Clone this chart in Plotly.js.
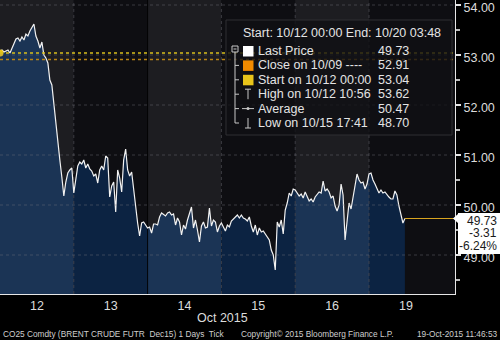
<!DOCTYPE html>
<html><head><meta charset="utf-8">
<script src="https://cdn.plot.ly/plotly-3.0.1.min.js"></script>
<style>html,body{margin:0;padding:0;background:#000;}#chart{width:500px;height:340px;}</style>
</head><body><div id="chart"></div>
<script>
// ---- data ----
const dayLabels = ['12', '13', '14', '15', '16', '19'];
const day12 = [53.04,53.10,53.06,53.08,53.10,53.04,53.14,53.26,53.32,53.34,53.28,53.36,53.30,53.42,53.38,53.48,53.56,53.62,53.38,53.28,53.14,53.26,53.00,52.94,52.84,52.50,52.40,52.00,51.60,51.16,50.90,50.56,50.18,50.46,50.64,50.70,50.74];
const day13 = [50.24,50.54,50.78,50.86,50.82,50.90,50.74,50.82,50.72,50.68,50.58,50.62,50.44,50.70,50.78,50.70,50.98,50.94,50.16,50.38,50.46,49.86,50.70,50.54,50.26,50.90,51.12,50.70,50.58,50.66,50.32,49.86,49.64,49.38,49.64,49.66,49.60];
const day14 = [49.54,49.56,49.44,49.62,49.62,49.60,49.76,49.84,49.80,49.78,49.84,49.86,49.80,49.82,49.60,49.74,49.66,49.40,49.60,49.52,49.70,49.84,49.96,49.54,49.70,49.50,49.26,49.58,49.66,49.54,49.56,49.94,49.58,49.70,49.66,49.46,49.58];
const day15 = [49.64,49.56,49.48,49.60,49.56,49.68,49.72,49.76,49.80,49.74,49.80,49.74,49.72,49.68,49.76,49.58,49.46,49.60,49.40,49.54,49.46,49.48,49.42,49.36,49.30,49.10,49.00,48.70,49.66,49.56,49.70,49.42,49.90,50.04,50.24,50.18,50.32];
const day16 = [50.30,50.24,50.18,50.22,50.14,50.26,50.18,50.08,50.12,50.06,50.16,50.22,50.26,50.24,50.48,50.28,50.32,50.26,50.14,50.18,49.98,49.88,50.00,50.42,50.20,49.30,49.74,50.04,49.92,50.18,50.42,50.62,50.50,50.44,50.46,50.32,50.42];
const day19 = [50.62,50.64,50.50,50.42,50.34,50.24,50.30,50.24,50.26,50.20,50.16,50.12,50.12,50.28,50.20,49.98,49.82,49.64,49.73];
const days = [day12, day13, day14, day15, day16, day19];
const samplesPerDay = 37;

const lastPrice = 49.73, prevClose = 52.91, startPrice = 53.04;
const highPrice = 53.62, avgPrice = 50.47, lowPrice = 48.70;
const netChange = -3.31, pctChange = -6.24;
const yTicks = [49, 50, 51, 52, 53, 54];

const headerText = 'Start: 10/12 00:00 End: 10/20 03:48';
const legendLabels = ['Last Price', 'Close on 10/09 ----', 'Start on 10/12 00:00', 'High on 10/12 10:56', 'Average', 'Low on 10/15 17:41'];
const legendValues = [lastPrice, prevClose, startPrice, highPrice, avgPrice, lowPrice];
const footerLeft = 'CO25 Comdty (BRENT CRUDE FUTR\u00a0 Dec15) 1 Days\u00a0 Tick';
const footerMid = 'Copyright\u00a9 2015 Bloomberg Finance L.P.';
const footerRight = '19-Oct-2015 11:46:53';

// ---- geometry / style ----
const W = 500, H = 340, ML = 0, MR = 45, MT = 0, MB = 46;
const PW = W - ML - MR, PH = H - MT - MB;
const pxPerDay = 73.8;
const xRange = [0, PW / pxPerDay];
const yRange = [48.22, 54.1];
const px = x => x / PW;
const py = y => (PH - y) / PH;
const FONT = 'Arial, Liberation Sans, sans-serif';
const lightBg = '#1d1d21', darkBg = '#0e0e12';
const lightFill = '#1b3455', darkFill = '#0c2342';

const traces = [];
const allX = [], allY = [];
days.forEach((arr, k) => {
  const xs = arr.map((v, i) => k + i / samplesPerDay);
  const ys = arr.slice();
  allX.push(...xs); allY.push(...ys);
  if (k + 1 < days.length) { xs.push(k + 1); ys.push(days[k + 1][0]); }
  traces.push({x: xs, y: ys, type: 'scatter', mode: 'lines', fill: 'tozeroy',
    fillcolor: k % 2 === 0 ? lightFill : darkFill, line: {width: 0}, hoverinfo: 'skip'});
});
for (let k = 1; k < days.length; k++) {
  traces.push({x: [k, k], y: [yRange[0], yRange[1]], type: 'scatter', mode: 'lines',
    line: {color: k === 2 ? 'rgba(0,0,0,0.9)' : 'rgba(70,70,78,0.8)', width: 1, dash: k === 2 ? 'solid' : 'dot'}, hoverinfo: 'skip'});
}
traces.push({x: allX, y: allY, type: 'scatter', mode: 'lines', line: {color: '#f2f2f2', width: 1.2}, hoverinfo: 'skip'});
traces.push({x: [allX[0]], y: [startPrice], type: 'scatter', mode: 'markers', marker: {color: '#e8c41a', size: 7}, hoverinfo: 'skip'});
const lastX = allX[allX.length - 1];

const shapes = [];
days.forEach((arr, k) => {
  shapes.push({type: 'rect', layer: 'below', xref: 'x', yref: 'paper', x0: k, x1: k === days.length - 1 ? xRange[1] : k + 1, y0: 0, y1: 1,
    fillcolor: k % 2 === 0 ? lightBg : darkBg, line: {width: 0}});
});
yTicks.forEach(v => shapes.push({type: 'line', layer: 'above', xref: 'paper', yref: 'y', x0: 0, x1: 1, y0: v, y1: v,
  line: {color: 'rgba(110,110,120,0.45)', width: 1, dash: 'dot'}}));
shapes.push({type: 'line', layer: 'above', xref: 'paper', yref: 'y', x0: 0, x1: 1, y0: startPrice, y1: startPrice, line: {color: '#d8bf1c', width: 1.6, dash: 'dot'}});
shapes.push({type: 'line', layer: 'above', xref: 'paper', yref: 'y', x0: 0, x1: 1, y0: prevClose, y1: prevClose, line: {color: '#b98416', width: 1.6, dash: 'dot'}});
shapes.push({type: 'line', layer: 'above', xref: 'x', yref: 'y', x0: lastX, x1: xRange[1], y0: lastPrice, y1: lastPrice, line: {color: '#d9a520', width: 1.2}});
shapes.push({type: 'rect', layer: 'above', xref: 'paper', yref: 'paper', x0: px(226), x1: px(452), y0: py(135), y1: py(20),
  fillcolor: 'rgba(16,16,20,0.8)', line: {color: '#2e2e33', width: 1}});

const annotations = [];
const rowY0 = 51, rowStep = 14.4;
const iconColor = '#c8c8c8';
shapes.push({type: 'rect', layer: 'above', xref: 'paper', yref: 'paper', x0: px(232), x1: px(238), y0: py(52), y1: py(46), line: {color: iconColor, width: 1}, fillcolor: 'rgba(0,0,0,0)'});
shapes.push({type: 'line', layer: 'above', xref: 'paper', yref: 'paper', x0: px(233.5), x1: px(236.5), y0: py(49), y1: py(49), line: {color: iconColor, width: 1}});
shapes.push({type: 'line', layer: 'above', xref: 'paper', yref: 'paper', x0: px(235), x1: px(235), y0: py(52), y1: py(rowY0 + 5 * rowStep), line: {color: iconColor, width: 1}});
legendLabels.forEach((lab, i) => {
  const ry = rowY0 + i * rowStep;
  if (i > 0) shapes.push({type: 'line', layer: 'above', xref: 'paper', yref: 'paper', x0: px(235), x1: px(239), y0: py(ry), y1: py(ry), line: {color: iconColor, width: 1}});
  const sqColors = ['#ffffff', '#f08a00', '#e8c41a'];
  if (i < 3) {
    shapes.push({type: 'rect', layer: 'above', xref: 'paper', yref: 'paper', x0: px(243), x1: px(253.5), y0: py(ry + 5.5), y1: py(ry - 5), fillcolor: sqColors[i], line: {width: 0}});
  } else if (i === 3) {
    shapes.push({type: 'line', layer: 'above', xref: 'paper', yref: 'paper', x0: px(245), x1: px(251), y0: py(ry - 5), y1: py(ry - 5), line: {color: iconColor, width: 1}});
    shapes.push({type: 'line', layer: 'above', xref: 'paper', yref: 'paper', x0: px(248), x1: px(248), y0: py(ry - 5), y1: py(ry + 5), line: {color: iconColor, width: 1}});
  } else if (i === 4) {
    shapes.push({type: 'line', layer: 'above', xref: 'paper', yref: 'paper', x0: px(242), x1: px(254), y0: py(ry), y1: py(ry), line: {color: iconColor, width: 1}});
    shapes.push({type: 'circle', layer: 'above', xref: 'paper', yref: 'paper', x0: px(246.5), x1: px(249.5), y0: py(ry + 1.5), y1: py(ry - 1.5), fillcolor: iconColor, line: {width: 0}});
  } else {
    shapes.push({type: 'line', layer: 'above', xref: 'paper', yref: 'paper', x0: px(245), x1: px(251), y0: py(ry + 5), y1: py(ry + 5), line: {color: iconColor, width: 1}});
    shapes.push({type: 'line', layer: 'above', xref: 'paper', yref: 'paper', x0: px(248), x1: px(248), y0: py(ry - 5), y1: py(ry + 5), line: {color: iconColor, width: 1}});
  }
  annotations.push({xref: 'paper', yref: 'paper', x: px(256), y: py(ry), xanchor: 'left', yanchor: 'middle', showarrow: false,
    text: lab, font: {family: FONT, size: 12.5, color: '#e4e4e4'}});
  annotations.push({xref: 'paper', yref: 'paper', x: px(376), y: py(ry), xanchor: 'left', yanchor: 'middle', showarrow: false,
    text: legendValues[i].toFixed(2), font: {family: FONT, size: 12.5, color: '#e4e4e4'}});
});
annotations.push({xref: 'paper', yref: 'paper', x: px(241), y: py(33), xanchor: 'left', yanchor: 'middle', showarrow: false,
  text: headerText, font: {family: FONT, size: 12.5, color: '#e4e4e4'}});

const bx = v => px(v), by = v => py(v);
shapes.push({type: 'path', layer: 'above', xref: 'paper', yref: 'paper',
  path: `M ${bx(458)} ${by(213)} L ${bx(500)} ${by(213)} L ${bx(500)} ${by(254)} L ${bx(458)} ${by(254)} L ${bx(458)} ${by(223)} L ${bx(453)} ${by(218.5)} L ${bx(458)} ${by(214)} Z`,
  fillcolor: '#ffffff', line: {width: 0}});
[[lastPrice.toFixed(2), 220.5], [netChange.toFixed(2), 233], [pctChange.toFixed(2) + '%', 245.5]].forEach(([t, y]) => {
  annotations.push({xref: 'paper', yref: 'paper', x: px(498), y: py(y), xanchor: 'right', yanchor: 'middle', showarrow: false,
    text: t, font: {family: FONT, size: 12, color: '#1a1a1a'}, borderpad: 0});
});

annotations.push({xref: 'paper', yref: 'paper', x: px(222), y: py(318), xanchor: 'center', yanchor: 'middle', showarrow: false,
  text: 'Oct 2015', font: {family: FONT, size: 12.5, color: '#dcdcdc'}});
annotations.push({xref: 'paper', yref: 'paper', x: px(1), y: py(333.5), xanchor: 'left', yanchor: 'middle', showarrow: false,
  text: footerLeft, font: {family: FONT, size: 8.3, color: '#cfcfcf'}});
annotations.push({xref: 'paper', yref: 'paper', x: px(239), y: py(333.5), xanchor: 'left', yanchor: 'middle', showarrow: false,
  text: footerMid, font: {family: FONT, size: 8.3, color: '#cfcfcf'}});
annotations.push({xref: 'paper', yref: 'paper', x: px(499), y: py(333.5), xanchor: 'right', yanchor: 'middle', showarrow: false,
  text: footerRight, font: {family: FONT, size: 8.3, color: '#cfcfcf'}});

const layout = {
  width: W, height: H, margin: {l: ML, r: MR, t: MT, b: MB, pad: 0},
  paper_bgcolor: '#000000', plot_bgcolor: darkBg, showlegend: false,
  font: {family: FONT, color: '#dcdcdc'},
  xaxis: {range: xRange, tickmode: 'array', tickvals: dayLabels.map((d, i) => i + 0.5), ticktext: dayLabels,
    showgrid: false, zeroline: false, showline: true, linecolor: '#e6e6e6', linewidth: 1, ticks: '',
    tickfont: {family: FONT, size: 12.5, color: '#dcdcdc'}, fixedrange: true},
  yaxis: {range: yRange, side: 'right', tickmode: 'array', tickvals: yTicks, ticktext: yTicks.map(v => v.toFixed(2)),
    showgrid: false, zeroline: false, showline: true, linecolor: '#e6e6e6', linewidth: 1,
    ticks: 'outside', ticklen: 5, tickwidth: 2, tickcolor: '#e6e6e6', ticklabeloverflow: 'allow', ticklabelshift: 3,
    minor: {dtick: 0.5, tick0: 0, ticks: 'outside', ticklen: 4, tickcolor: '#bbbbbb', showgrid: false},
    tickfont: {family: FONT, size: 12.5, color: '#dcdcdc'}, fixedrange: true},
  shapes: shapes, annotations: annotations
};
Plotly.newPlot('chart', traces, layout, {displayModeBar: false, staticPlot: true});
</script>
</body></html>
